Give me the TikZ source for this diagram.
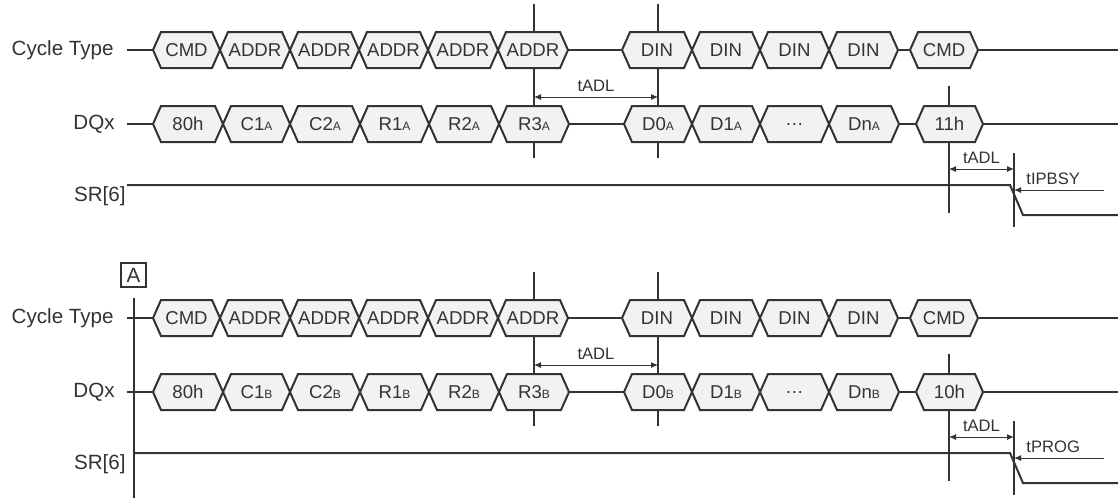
\documentclass[tikz,border=0pt]{standalone}
\usepackage{fontspec}
\setmainfont{Liberation Sans}
\usetikzlibrary{arrows.meta}

\definecolor{sigcol}{HTML}{333333}
\definecolor{cellfill}{HTML}{F2F2F2}

\tikzset{
  wire/.style={draw=sigcol, line width=1pt},
  cell/.style={draw=sigcol, fill=cellfill, line width=1pt},
  celltext/.style={font=\fontsize{9.3}{11}\selectfont, text=sigcol, inner sep=0pt},
  rowlabel/.style={font=\fontsize{10.3}{12}\selectfont, text=sigcol, inner sep=0pt},
  marker/.style={draw=sigcol, line width=0.8pt},
  dim/.style={draw=sigcol, line width=0.5pt},
  dimlabel/.style={font=\fontsize{8.3}{10}\selectfont, text=sigcol, inner sep=2.5pt},
}

\newcommand\lo[1]{{\fontsize{6}{7}\selectfont #1}}
% one bus cell: left x, right x, y, name, text
\newcommand\hexcell[5]{%
  \draw[cell] (#1,#3) -- (#1+8,#3-18) -- (#2-8,#3-18) -- (#2,#3) -- (#2-8,#3+18) -- (#1+8,#3+18) -- cycle;
  \node[celltext] (#4) at ({(#1+#2)/2},#3) {#5};}

\begin{document}
\begin{tikzpicture}[x=0.5pt, y=-0.5pt, >={Latex[length=3.5pt,width=3pt]}]
\useasboundingbox (0,0) rectangle (1118,500);

\foreach \dy/\sub/\endcmd/\busy/\srx in {0/A/11h/tIPBSY/127, 268/B/10h/tPROG/134} {
\begin{scope}[yshift=-\dy*0.5pt]
  % row names
  \node[rowlabel, anchor=east] (ctl\sub) at (114,50) {Cycle Type};
  \node[rowlabel, anchor=east] (dql\sub) at (115,124) {DQx};
  \node[rowlabel, anchor=east] (srl\sub) at (126,196) {SR[6]};

  % timing marks (behind the cells)
  \draw[marker] (534,4) -- (534,158);
  \draw[marker] (658,4) -- (658,158);
  \draw[marker] (949,86) -- (949,213);
  \draw[marker] (1014,153) -- (1014,227);

  % cycle type bus
  \coordinate (cts\sub) at (127,50);
  \coordinate (cte\sub) at (1118,50);
  \draw[wire] (cts\sub) -- (cte\sub);
  \foreach \xa/\xb/\txt [count=\k] in {153/220/CMD, 220/290/ADDR, 290/359/ADDR, 359/428/ADDR,
      428/498/ADDR, 498/568/ADDR, 622/692/DIN, 692/760/DIN, 760/829/DIN, 829/898/DIN, 910/978/CMD}
    {\hexcell{\xa}{\xb}{50}{ct\k\sub}{\txt}}

  % data bus
  \coordinate (dqs\sub) at (127,124);
  \coordinate (dqe\sub) at (1118,124);
  \draw[wire] (dqs\sub) -- (dqe\sub);
  \foreach \xa/\xb/\txt [count=\k] in {153/223/80h, 223/290/C1\lo{\sub}, 290/360/C2\lo{\sub},
      360/429/R1\lo{\sub}, 429/499/R2\lo{\sub}, 499/569/R3\lo{\sub}, 624/692/D0\lo{\sub},
      692/760/D1\lo{\sub}, 760/829/\dots, 829/899/Dn\lo{\sub}, 916/983/\endcmd}
    {\hexcell{\xa}{\xb}{124}{dq\k\sub}{\txt}}

  % status bit
  \coordinate (srs\sub) at (\srx,185);
  \coordinate (srf\sub) at (1010,185);
  \coordinate (srl\sub) at (1023,215);
  \coordinate (sre\sub) at (1118,215);
  \draw[wire] (srs\sub) -- (srf\sub) -- (srl\sub) -- (sre\sub);

  % timing arrows
  \coordinate (ma\sub) at (534,97);
  \coordinate (mb\sub) at (658,97);
  \draw[dim, <->] (ma\sub) -- node[dimlabel, above] {tADL} (mb\sub);
  \coordinate (mc\sub) at (949,169);
  \coordinate (md\sub) at (1014,169);
  \draw[dim, <->] (mc\sub) -- node[dimlabel, above] {tADL} (md\sub);
  \coordinate (bs\sub) at (1104,190);
  \coordinate (be\sub) at (1014,190);
  \draw[dim, ->] (bs\sub) -- (be\sub);
  \node[dimlabel, anchor=base west, inner sep=0pt] (bl\sub) at (1026,184) {\busy};
\end{scope}
}

% mark of the second sequence
\node[draw=sigcol, line width=0.6pt, rowlabel, minimum width=12.5pt, minimum height=12pt] (boxA) at (133.5,275) {A};
\draw[marker] (134,298) -- (134,498);
\end{tikzpicture}
\end{document}
